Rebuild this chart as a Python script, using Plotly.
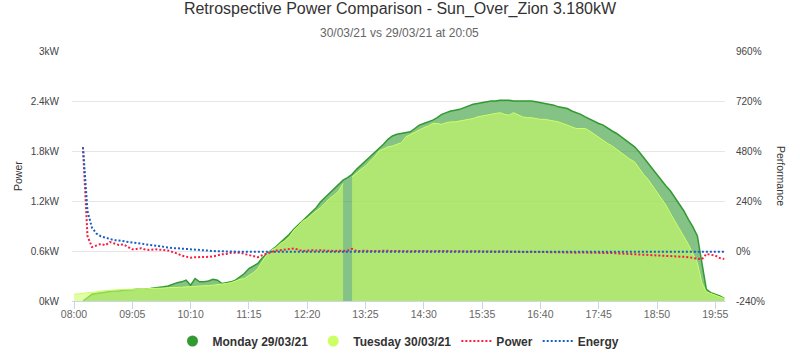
import plotly.graph_objects as go
import pandas as pd

# ---------------- data ----------------
day = "2021-03-30"
times = pd.date_range(f"{day} 08:00", f"{day} 20:05", freq="5min")

tick_labels = ["08:00", "09:05", "10:10", "11:15", "12:20", "13:25",
               "14:30", "15:35", "16:40", "17:45", "18:50", "19:55"]

power_ticks = [0, 0.6, 1.2, 1.8, 2.4, 3.0]
power_tick_text = ["0kW", "0.6kW", "1.2kW", "1.8kW", "2.4kW", "3kW"]
perf_ticks = [-240, 0, 240, 480, 720, 960]
perf_tick_text = ["-240%", "0%", "240%", "480%", "720%", "960%"]

# Monday 29/03/21 generation (kW), 5-min intervals from 08:00
monday = [
    None, None, 0.0, 0.04, 0.08, 0.09, 0.10, 0.11, 0.115, 0.12, 0.12, 0.13,
    0.13, 0.135, 0.14, 0.14, 0.145, 0.15, 0.155, 0.16, 0.17, 0.18, 0.20, 0.22,
    0.23, 0.25, 0.19, 0.27, 0.23, 0.23, 0.24, 0.26, 0.25, 0.21, 0.22, 0.23,
    0.25, 0.29, 0.33, 0.39, 0.42, 0.45, 0.52, 0.57, 0.61, 0.65, 0.70, 0.74,
    0.80, 0.86, 0.91, 0.97, 1.02, 1.07, 1.12, 1.19, 1.24, 1.29, 1.34, 1.39,
    1.45, 1.48, 1.52, 1.58, 1.63, 1.68, 1.73, 1.78, 1.82, 1.88, 1.94, 1.98,
    2.00, 2.01, 2.02, 2.03, 2.07, 2.11, 2.13, 2.15, 2.17, 2.20, 2.24, 2.26,
    2.28, 2.29, 2.30, 2.32, 2.34, 2.36, 2.37, 2.38, 2.39, 2.40, 2.40, 2.41,
    2.41, 2.41, 2.40, 2.40, 2.40, 2.40, 2.40, 2.39, 2.38, 2.37, 2.36, 2.35,
    2.33, 2.32, 2.31, 2.28, 2.26, 2.24, 2.21, 2.18, 2.15, 2.13, 2.11, 2.07,
    2.04, 2.01, 1.97, 1.92, 1.89, 1.85, 1.79, 1.72, 1.65, 1.58, 1.51, 1.44,
    1.38, 1.32, 1.24, 1.17, 1.08, 0.98, 0.89, 0.78, 0.45, 0.14, 0.10, 0.08,
    0.06, 0.03,
]

# Tuesday 30/03/21 generation (kW); None = missing reading
tuesday = [
    0.08, 0.085, 0.09, 0.095, 0.10, 0.11, 0.12, 0.125, 0.13, 0.135, 0.14, 0.14,
    0.14, 0.14, 0.14, 0.145, 0.145, 0.15, 0.15, 0.15, 0.155, 0.16, 0.16, 0.165,
    0.165, 0.17, 0.17, 0.175, 0.18, 0.18, 0.185, 0.19, 0.195, 0.20, 0.21, 0.22,
    0.24, 0.26, 0.27, 0.30, 0.34, 0.39, 0.47, 0.56, 0.61, 0.64, 0.69, 0.72,
    0.77, 0.85, 0.90, 0.96, 0.99, 1.04, 1.08, 1.12, 1.18, 1.23, 1.27, 1.32,
    1.41, None, 1.49, 1.54, 1.58, 1.62, 1.67, 1.73, 1.80, 1.83, 1.85, 1.86,
    1.88, 1.90, 1.97, 2.00, 2.03, 2.06, 2.08, 2.10, 2.13, 2.13, 2.12, 2.14,
    2.15, 2.15, 2.16, 2.17, 2.18, 2.19, 2.21, 2.22, 2.23, 2.24, 2.25, 2.26,
    2.24, 2.23, 2.26, 2.23, 2.21, 2.20, 2.20, 2.19, 2.18, 2.18, 2.17, 2.16,
    2.15, 2.13, 2.11, 2.09, 2.07, 2.07, 2.07, 2.04, 2.00, 1.96, 1.93, 1.89,
    1.86, 1.82, 1.78, 1.73, 1.70, 1.67, 1.59, 1.52, 1.46, 1.38, 1.30, 1.23,
    1.15, 1.05, 0.96, 0.87, 0.78, 0.68, 0.57, 0.46, 0.22, 0.11, 0.09, 0.07,
    0.05, 0.03,
]

# Power performance (%)
power_perf = [
    None, None, 498, 72, 19, 26, 34, 28, 43, 36, 29, 32,
    20, 8, 10, 13, 6, 5, 8, 8, 5, 2, -4, -12,
    -22, -26, -32, -30, -30, -30, -28, -26, -20, -16, -14, -8,
    -8, -8, -14, -20, -26, -30, -20, -12, -4, 2, 4, 6,
    8, 12, 6, 0, 2, 4, 2, 4, 2, 0, 0, 2,
    0, 2, 10, 0, 2, 1, 0, 1, 2, 0, 1, 0,
    1, 0, -1, 0, 1, -1, 0, -1, 0, -1, -1, 0,
    -1, -2, -1, -2, -2, -1, -2, -3, -2, -3, -3, -2,
    -3, -4, -3, -4, -4, -5, -4, -5, -5, -6, -5, -6,
    -6, -7, -6, -7, -8, -7, -8, -8, -9, -8, -9, -10,
    -10, -11, -11, -12, -13, -14, -15, -16, -18, -19, -21, -23,
    -24, -25, -26, -27, -28, -30, -33, -38, -40, -14, -18, -22,
    -34, -38,
]

# Energy performance (%)
energy_perf = [
    None, None, 498, 192, 112, 84, 70, 64, 58, 52, 50, 47,
    44, 40, 36, 32, 29, 26, 24, 22, 19, 17, 14, 13,
    11, 10, 8, 6, 5, 3, 2, 0, -1, -2, -2, -3,
    -3, -4, -4, -4, -4, -4, -4, -4, -4, -4, -4, -4,
    -4, -4, -4, -4, -4, -4, -4, -4, -4, -4, -4, -4,
    -4, -4, -4, -4, -4, -4, -4, -4, -4, -4, -4, -4,
    -4, -4, -4, -4, -4, -4, -4, -4, -4, -4, -4, -4,
    -4, -4, -4, -4, -4, -4, -4, -4, -4, -4, -4, -4,
    -4, -4, -4, -4, -4, -4, -4, -4, -4, -4, -4, -4,
    -4, -4, -4, -4, -4, -4, -4, -4, -4, -4, -4, -4,
    -4, -4, -4, -4, -4, -4, -4, -4, -4, -4, -4, -4,
    -4, -4, -4, -4, -4, -4, -4, -4, -4, -4, -4, -4,
    -4, -4,
]

# ---------------- styles ----------------
FONT = "Liberation Sans, Arial, sans-serif"
MON = "#339933"
TUE = "#ccff66"
RED = "#ff1a40"
BLUE = "#1560c8"


def segments(xs, ys):
    """Split a series into runs of non-missing values (gaps stay empty)."""
    runs, cx, cy = [], [], []
    for x, y in zip(xs, ys):
        if y is None:
            if cx:
                runs.append((cx, cy))
            cx, cy = [], []
        else:
            cx.append(x)
            cy.append(y)
    if cx:
        runs.append((cx, cy))
    return runs


fig = go.Figure()

for sx, sy in segments(times, monday):
    fig.add_trace(go.Scatter(
        x=sx, y=sy, mode="lines", name="Monday 29/03/21", legendgroup="mon",
        line=dict(color=MON, width=1.5), fill="tozeroy",
        fillcolor="rgba(51,153,51,0.6)", showlegend=False))
for sx, sy in segments(times, tuesday):
    fig.add_trace(go.Scatter(
        x=sx, y=sy, mode="lines", name="Tuesday 30/03/21", legendgroup="tue",
        line=dict(color=TUE, width=1), fill="tozeroy",
        fillcolor="rgba(204,255,102,0.6)", showlegend=False))
fig.add_trace(go.Scatter(
    x=times, y=power_perf, mode="lines", name="Power", yaxis="y2", legendgroup="pow",
    line=dict(color=RED, width=2, dash="2px,2px"), showlegend=False))
fig.add_trace(go.Scatter(
    x=times, y=energy_perf, mode="lines", name="Energy", yaxis="y2", legendgroup="en",
    line=dict(color=BLUE, width=2, dash="2px,2px"), showlegend=False))

# legend entries
fig.add_trace(go.Scatter(x=[None], y=[None], mode="markers", name="Monday 29/03/21",
                         legendgroup="mon", marker=dict(size=11, color=MON)))
fig.add_trace(go.Scatter(x=[None], y=[None], mode="markers", name="Tuesday 30/03/21",
                         legendgroup="tue", marker=dict(size=11, color=TUE)))
fig.add_trace(go.Scatter(x=[None], y=[None], mode="lines", name="Power", yaxis="y2",
                         legendgroup="pow", line=dict(color=RED, width=2, dash="2px,2px")))
fig.add_trace(go.Scatter(x=[None], y=[None], mode="lines", name="Energy", yaxis="y2",
                         legendgroup="en", line=dict(color=BLUE, width=2, dash="2px,2px")))

fig.update_layout(
    width=800, height=354,
    margin=dict(l=72, r=75, t=51, b=53, autoexpand=False),
    paper_bgcolor="white", plot_bgcolor="white",
    font=dict(family=FONT, color="#333333"),
    title=dict(text="Retrospective Power Comparison - Sun_Over_Zion 3.180kW",
               x=0.5, xref="container", xanchor="center",
               y=1 - 8 / 354, yref="container", yanchor="middle",
               font=dict(size=16, color="#333333", family=FONT)),
    xaxis=dict(
        type="date",
        range=[f"{day} 07:57:46", f"{day} 20:05:48"],
        tickvals=[f"{day} {t}" for t in tick_labels],
        ticktext=tick_labels,
        showgrid=False, zeroline=False,
        showline=True, linecolor="#ccd6eb", linewidth=1,
        ticks="outside", ticklen=7, tickcolor="#ccd6eb",
        ticklabelstandoff=-4,
        tickfont=dict(size=10.5, color="#666666", family=FONT),
    ),
    yaxis=dict(
        range=[0, 3], tickvals=power_ticks, ticktext=power_tick_text,
        showgrid=True, gridcolor="#e6e6e6", gridwidth=1, zeroline=False,
        ticks="", ticklabelstandoff=12,
        tickfont=dict(size=10, color="#444444", family=FONT),
    ),
    yaxis2=dict(
        range=[-240, 960], tickvals=perf_ticks, ticktext=perf_tick_text,
        overlaying="y", side="right", showgrid=False, zeroline=False,
        ticks="", ticklabelstandoff=10,
        tickfont=dict(size=10, color="#444444", family=FONT),
    ),
    legend=dict(orientation="h", x=0.5, xanchor="center",
                y=(301 - 341) / 250, yanchor="middle",
                font=dict(size=12, color="#333333", family=FONT, weight="bold"),
                itemwidth=30, bgcolor="rgba(0,0,0,0)"),
    annotations=[
        dict(text="30/03/21 vs 29/03/21 at 20:05", xref="paper", yref="paper",
             x=(400 - 72) / 653, y=(301 - 33) / 250, xanchor="center", yanchor="middle",
             showarrow=False, font=dict(size=12, color="#666666", family=FONT)),
        dict(text="Power", xref="paper", yref="paper",
             x=(18 - 72) / 653, y=0.5, xanchor="center", yanchor="middle",
             textangle=-90, showarrow=False,
             font=dict(size=10.5, color="#333333", family=FONT)),
        dict(text="Performance", xref="paper", yref="paper",
             x=(781 - 72) / 653, y=0.5, xanchor="center", yanchor="middle",
             textangle=90, showarrow=False,
             font=dict(size=10.5, color="#333333", family=FONT)),
    ],
)

fig.write_html("out.html")
